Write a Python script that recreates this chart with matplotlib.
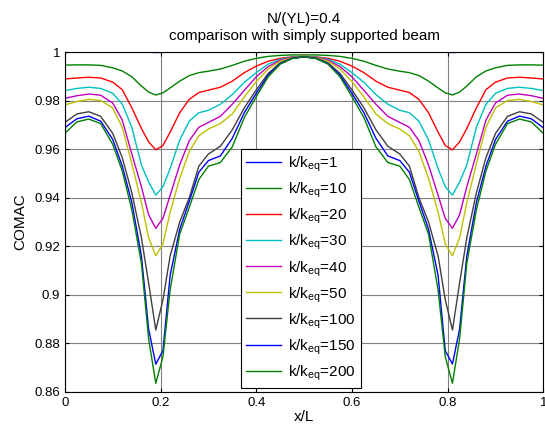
import matplotlib.pyplot as plt

plt.rcParams['font.family'] = ['Liberation Sans', 'DejaVu Sans']
plt.rcParams['mathtext.fontset'] = 'custom'
plt.rcParams['mathtext.rm'] = 'Liberation Sans'

# x/L positions (symmetric about 0.5)
x = [0, 0.025, 0.05, 0.075, 0.1, 0.12, 0.14, 0.16, 0.175, 0.19, 0.205, 0.22,
     0.24, 0.26, 0.28, 0.3, 0.325, 0.35, 0.375, 0.4, 0.425, 0.45, 0.475, 0.5,
     0.525, 0.55, 0.575, 0.6, 0.625, 0.65, 0.675, 0.7, 0.72, 0.74, 0.76, 0.78,
     0.795, 0.81, 0.825, 0.84, 0.86, 0.88, 0.9, 0.925, 0.95, 0.975, 1.0]

k1 = [1.0, 1.0, 1.0, 1.0, 1.0, 1.0, 1.0, 1.0, 0.9999, 0.9998, 0.9999, 1.0,
      1.0, 1.0, 1.0, 1.0, 1.0, 1.0, 1.0, 1.0, 1.0, 1.0, 1.0, 1.0,
      1.0, 1.0, 1.0, 1.0, 1.0, 1.0, 1.0, 1.0, 1.0, 1.0, 1.0, 1.0,
      0.9999, 0.9998, 0.9999, 1.0, 1.0, 1.0, 1.0, 1.0, 1.0, 1.0, 1.0]
k10 = [0.9946, 0.9947, 0.9947, 0.9945, 0.9935, 0.9922, 0.9898, 0.9860, 0.9835, 0.9823, 0.9832, 0.9852,
       0.9880, 0.9903, 0.9915, 0.9921, 0.9930, 0.9945, 0.9962, 0.9974, 0.9982, 0.9986, 0.9988, 0.9988,
       0.9988, 0.9986, 0.9982, 0.9974, 0.9962, 0.9945, 0.9930, 0.9921, 0.9915, 0.9903, 0.9880, 0.9852,
       0.9832, 0.9823, 0.9835, 0.9860, 0.9898, 0.9922, 0.9935, 0.9945, 0.9947, 0.9947, 0.9946]
k20 = [0.9889, 0.9893, 0.9896, 0.9893, 0.9876, 0.9845, 0.9770, 0.9685, 0.9630, 0.9597, 0.9615, 0.9670,
       0.9750, 0.9805, 0.9833, 0.9843, 0.9855, 0.9880, 0.9915, 0.9942, 0.9962, 0.9974, 0.9980, 0.9982,
       0.9980, 0.9974, 0.9962, 0.9942, 0.9915, 0.9880, 0.9855, 0.9843, 0.9833, 0.9805, 0.9750, 0.9670,
       0.9615, 0.9597, 0.9630, 0.9685, 0.9770, 0.9845, 0.9876, 0.9893, 0.9896, 0.9893, 0.9889]
k30 = [0.9841, 0.9850, 0.9855, 0.9850, 0.9830, 0.9785, 0.9690, 0.9535, 0.9465, 0.9411, 0.9445, 0.9520,
       0.9638, 0.9715, 0.9750, 0.9760, 0.9785, 0.9825, 0.9875, 0.9915, 0.9950, 0.9970, 0.9979, 0.9981,
       0.9979, 0.9970, 0.9950, 0.9915, 0.9875, 0.9825, 0.9785, 0.9760, 0.9750, 0.9715, 0.9638, 0.9520,
       0.9445, 0.9411, 0.9465, 0.9535, 0.9690, 0.9785, 0.9830, 0.9850, 0.9855, 0.9850, 0.9841]
k40 = [0.9809, 0.9820, 0.9827, 0.9822, 0.9790, 0.9720, 0.9580, 0.9445, 0.9330, 0.9274, 0.9315, 0.9410,
       0.9535, 0.9635, 0.9690, 0.9710, 0.9735, 0.9785, 0.9842, 0.9898, 0.9940, 0.9966, 0.9978, 0.9980,
       0.9978, 0.9966, 0.9940, 0.9898, 0.9842, 0.9785, 0.9735, 0.9710, 0.9690, 0.9635, 0.9535, 0.9410,
       0.9315, 0.9274, 0.9330, 0.9445, 0.9580, 0.9720, 0.9790, 0.9822, 0.9827, 0.9820, 0.9809]
k50 = [0.9782, 0.9796, 0.9805, 0.9800, 0.9770, 0.9690, 0.9540, 0.9380, 0.9235, 0.9161, 0.9210, 0.9340,
       0.9480, 0.9590, 0.9655, 0.9683, 0.9705, 0.9745, 0.9815, 0.9878, 0.9930, 0.9962, 0.9977, 0.9980,
       0.9977, 0.9962, 0.9930, 0.9878, 0.9815, 0.9745, 0.9705, 0.9683, 0.9655, 0.9590, 0.9480, 0.9340,
       0.9210, 0.9161, 0.9235, 0.9380, 0.9540, 0.9690, 0.9770, 0.9800, 0.9805, 0.9796, 0.9782]
k100 = [0.9710, 0.9745, 0.9754, 0.9735, 0.9665, 0.9565, 0.9420, 0.9235, 0.9050, 0.8855, 0.8980, 0.9160,
        0.9300, 0.9400, 0.9530, 0.9580, 0.9612, 0.9680, 0.9770, 0.9844, 0.9912, 0.9955, 0.9975, 0.9980,
        0.9975, 0.9955, 0.9912, 0.9844, 0.9770, 0.9680, 0.9612, 0.9580, 0.9530, 0.9400, 0.9300, 0.9160,
        0.8980, 0.8855, 0.9050, 0.9235, 0.9420, 0.9565, 0.9665, 0.9735, 0.9754, 0.9745, 0.9710]
k150 = [0.9688, 0.9725, 0.9736, 0.9715, 0.9640, 0.9530, 0.9380, 0.9160, 0.8860, 0.8715, 0.8770, 0.9080,
        0.9270, 0.9385, 0.9505, 0.9553, 0.9572, 0.9645, 0.9750, 0.9830, 0.9905, 0.9952, 0.9974, 0.9980,
        0.9974, 0.9952, 0.9905, 0.9830, 0.9750, 0.9645, 0.9572, 0.9553, 0.9505, 0.9385, 0.9270, 0.9080,
        0.8770, 0.8715, 0.8860, 0.9160, 0.9380, 0.9530, 0.9640, 0.9715, 0.9736, 0.9725, 0.9688]
k200 = [0.9665, 0.9712, 0.9724, 0.9705, 0.9620, 0.9510, 0.9350, 0.9130, 0.8820, 0.8636, 0.8745, 0.9020,
        0.9250, 0.9360, 0.9475, 0.9530, 0.9545, 0.9610, 0.9730, 0.9816, 0.9898, 0.9950, 0.9973, 0.9980,
        0.9973, 0.9950, 0.9898, 0.9816, 0.9730, 0.9610, 0.9545, 0.9530, 0.9475, 0.9360, 0.9250, 0.9020,
        0.8745, 0.8636, 0.8820, 0.9130, 0.9350, 0.9510, 0.9620, 0.9705, 0.9724, 0.9712, 0.9665]

ratios = ['1', '10', '20', '30', '40', '50', '100', '150', '200']
series = [k1, k10, k20, k30, k40, k50, k100, k150, k200]
colors = [(0, 0, 1), (0, 0.5, 0), (1, 0, 0), (0, 0.75, 0.75), (0.75, 0, 0.75),
          (0.75, 0.75, 0), (0.25, 0.25, 0.25), (0, 0, 1), (0, 0.5, 0)]

fig = plt.figure(figsize=(5.45, 4.32), dpi=100)
ax = fig.add_axes([0.119, 0.0926, 0.878, 0.787])

for r, y, c in zip(ratios, series, colors):
    ax.plot(x, y, color=c, lw=1.0, label=r'k/k$_{\mathrm{eq}}$=' + r)

ax.set_xlim(0, 1)
ax.set_ylim(0.86, 1.0)
ax.set_xticks([0, 0.2, 0.4, 0.6, 0.8, 1.0])
ax.set_xticklabels(['0', '0.2', '0.4', '0.6', '0.8', '1'])
ax.set_yticks([0.86, 0.88, 0.9, 0.92, 0.94, 0.96, 0.98, 1.0])
ax.set_yticklabels(['0.86', '0.88', '0.9', '0.92', '0.94', '0.96', '0.98', '1'])
ax.grid(True, color='#808080', lw=0.8)
ax.tick_params(direction='in', top=True, right=True, labelsize=9.5, length=3)
for s in ax.spines.values():
    s.set_linewidth(0.8)

ax.set_title('N/(YL)=0.4\ncomparison with simply supported beam', fontsize=11, pad=9,
             linespacing=1.2)
ax.set_xlabel('x/L', fontsize=11, labelpad=1)
ax.set_ylabel('COMAC', fontsize=11, labelpad=5)

leg = ax.legend(loc='lower left', bbox_to_anchor=(0.368, 0.012), fontsize=11,
                frameon=True, fancybox=False, edgecolor='black', framealpha=1,
                handlelength=2.3, labelspacing=0.42, borderpad=0.35, handletextpad=0.4,
                borderaxespad=0)
leg.get_frame().set_linewidth(0.8)

fig.savefig('out.png', dpi=100)
